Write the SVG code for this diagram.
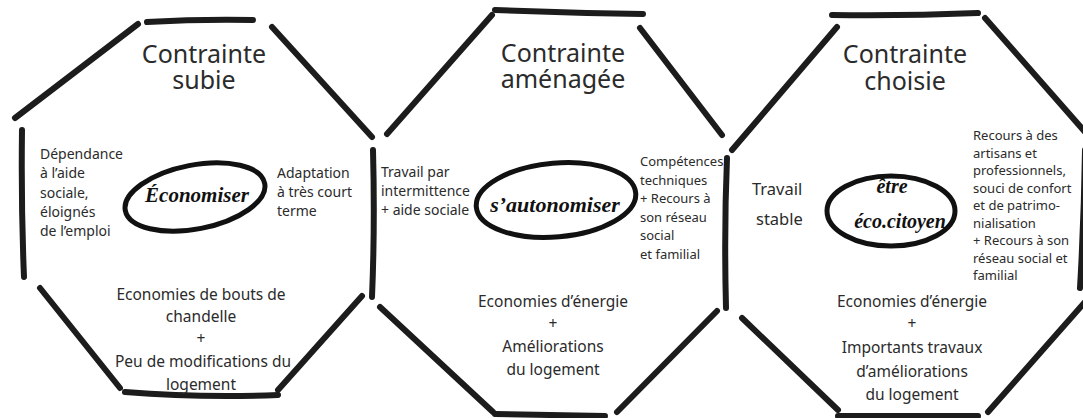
<svg xmlns="http://www.w3.org/2000/svg" width="1083" height="418" viewBox="0 0 1083 418">
<style>
.s{fill:none;stroke:#1c1c1c;stroke-width:6;stroke-linecap:round;stroke-linejoin:round}
.e{fill:none;stroke:#111;stroke-width:5}
text{font-family:"Noto Sans","Open Sans","DejaVu Sans",sans-serif;fill:#2b2b2b}
.t{font-size:25px;text-anchor:middle}
.m{font-size:15.5px;text-anchor:middle}
.d{font-size:14px}
.d2{font-size:13px}
.h{font-family:"Liberation Serif","DejaVu Serif",serif;font-style:italic;font-weight:bold;fill:#111;text-anchor:middle}
</style>
<rect width="1083" height="418" fill="#ffffff"/>
<g id="connectors">
<path class="s" d="M147,22 Q200,19 253,20"/>
<path class="s" d="M15,118 L138,24"/>
<path class="s" d="M272,27 L372,137"/>
<path class="s" d="M22,130 Q21,205 24,277"/>
<path class="s" d="M40,288 L120,388"/>
<path class="s" d="M125,392 Q200,398 278,395"/>
<path class="s" d="M278,390 L362,296"/>
<path class="s" d="M373,150 Q375,225 372,297"/>
<path class="s" d="M387,134 L492,15"/>
<path class="s" d="M495,10 Q570,13 643,14"/>
<path class="s" d="M640,28 L722,135"/>
<path class="s" d="M380,307 L493,412"/>
<path class="s" d="M495,414 L605,416"/>
<path class="s" d="M617,412 L717,311"/>
<path class="s" d="M727,158 Q724,230 726,308"/>
<path class="s" d="M732,150 L837,27"/>
<path class="s" d="M832,15 Q905,16 978,13"/>
<path class="s" d="M985,18 L1086,133"/>
<path class="s" d="M1085,150 Q1084,220 1080,288"/>
<path class="s" d="M1085,302 L988,412"/>
<path class="s" d="M742,318 L838,410"/>
<path class="s" d="M838,416 L978,416"/>
</g>
<g id="node-subie">
<text class="t" x="204" y="63">Contrainte</text>
<text class="t" x="204" y="89">subie</text>
<text class="d"><tspan x="40" y="159">Dépendance</tspan><tspan x="40" y="178">à l’aide</tspan><tspan x="40" y="198">sociale,</tspan><tspan x="40" y="217">éloignés</tspan><tspan x="40" y="236">de l’emploi</tspan></text>
<ellipse class="e" cx="195" cy="197" rx="71" ry="32" transform="rotate(-11 195 197)"/>
<text class="h" x="197" y="202" font-size="21">Économiser</text>
<text class="d"><tspan x="277" y="178">Adaptation</tspan><tspan x="277" y="197">à très court</tspan><tspan x="277" y="216">terme</tspan></text>
<text class="m"><tspan x="201" y="300">Economies de bouts de</tspan><tspan x="201" y="322">chandelle</tspan><tspan x="201" y="344">+</tspan><tspan x="203" y="367">Peu de modifications du</tspan><tspan x="201" y="390">logement</tspan></text>
</g>
<g id="node-amenagee">
<text class="t" x="563" y="62">Contrainte</text>
<text class="t" x="563" y="88">aménagée</text>
<text class="d"><tspan x="381" y="177">Travail par</tspan><tspan x="381" y="196">intermittence</tspan><tspan x="381" y="215">+ aide sociale</tspan></text>
<ellipse class="e" cx="556" cy="200" rx="80" ry="37" transform="rotate(-5 556 200)"/>
<text class="h" x="555" y="212" font-size="22">s’autonomiser</text>
<text class="d2"><tspan x="640" y="166">Compétences</tspan><tspan x="640" y="185">techniques</tspan><tspan x="640" y="203">+ Recours à</tspan><tspan x="640" y="222">son réseau</tspan><tspan x="640" y="240">social</tspan><tspan x="640" y="259">et familial</tspan></text>
<text class="m"><tspan x="553" y="307">Economies d’énergie</tspan><tspan x="553" y="329">+</tspan><tspan x="553" y="352">Améliorations</tspan><tspan x="553" y="375">du logement</tspan></text>
</g>
<g id="node-choisie">
<text class="t" x="905" y="63">Contrainte</text>
<text class="t" x="905" y="90">choisie</text>
<text font-size="16.5px" x="752" y="195">Travail</text>
<text font-size="16.5px" x="756" y="225">stable</text>
<ellipse class="e" cx="891" cy="211" rx="64" ry="35"/>
<text class="h" x="892" y="193" font-size="20">être</text>
<text class="h" x="900" y="228" font-size="20">éco.citoyen</text>
<text class="d2"><tspan x="973" y="140">Recours à des</tspan><tspan x="973" y="158">artisans et</tspan><tspan x="973" y="175">professionnels,</tspan><tspan x="973" y="193">souci de confort</tspan><tspan x="973" y="210">et de patrimo-</tspan><tspan x="973" y="228">nialisation</tspan><tspan x="973" y="245">+ Recours à son</tspan><tspan x="973" y="263">réseau social et</tspan><tspan x="973" y="280">familial</tspan></text>
<text class="m"><tspan x="912" y="307">Economies d’énergie</tspan><tspan x="912" y="329">+</tspan><tspan x="912" y="353">Importants travaux</tspan><tspan x="912" y="377">d’améliorations</tspan><tspan x="912" y="400">du logement</tspan></text>
</g>
</svg>
